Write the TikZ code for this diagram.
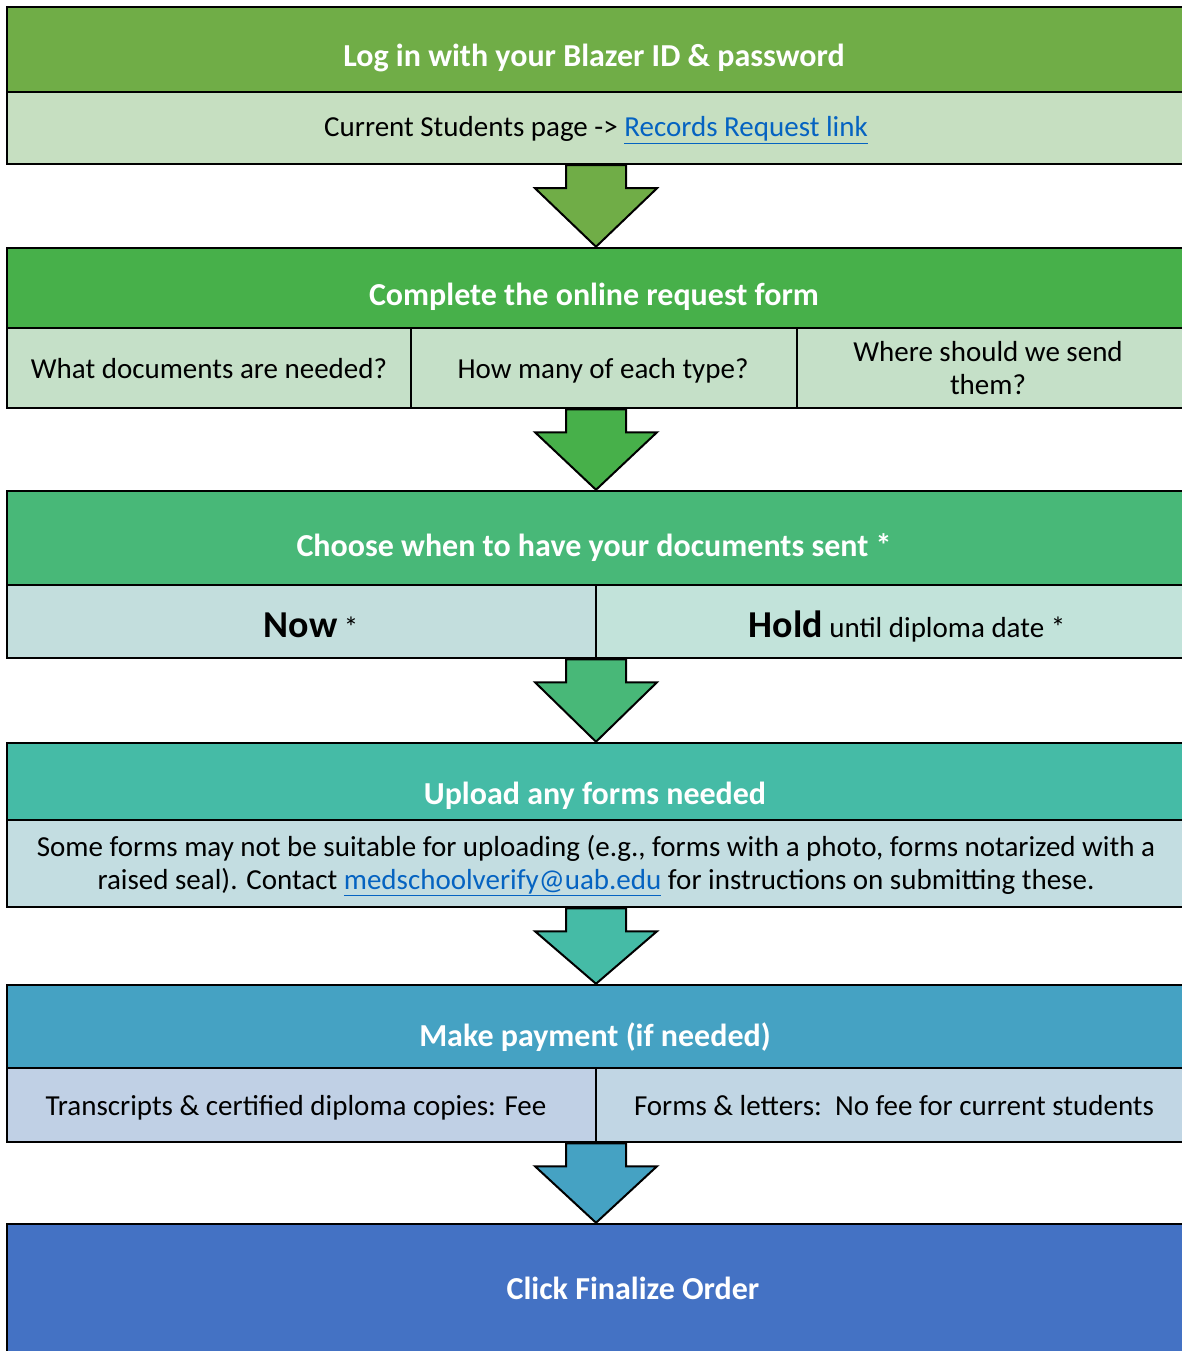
\documentclass[tikz,border=0pt]{standalone}
\usepackage{fontspec}
\setmainfont{Carlito}
\usetikzlibrary{calc}
\definecolor{hA}{HTML}{70AD47}\definecolor{sA}{HTML}{C6DFC1}
\definecolor{hB}{HTML}{47B04A}\definecolor{sB}{HTML}{C5E0C8}
\definecolor{hC}{HTML}{48B878}\definecolor{sCa}{HTML}{C3DEDD}\definecolor{sCb}{HTML}{C2E3DA}
\definecolor{hD}{HTML}{45BBA6}\definecolor{sD}{HTML}{C3DDE1}
\definecolor{hE}{HTML}{45A2C3}\definecolor{sEa}{HTML}{C0D0E5}\definecolor{sEb}{HTML}{C1D6E4}
\definecolor{hF}{HTML}{4472C4}
\definecolor{linkblue}{HTML}{0563C1}
\newcommand\weblink[1]{\textcolor{linkblue}{\underline{#1}}}
\newcommand\flowarrow[3]{%
  \draw[flowarrowstyle, fill=#3] ($(#1)+(-30,0)$) -- ++(0,-23) -- ++(-31,0) -- (#2.north)
    -- ($(#1)+(61,-23)$) -- ++(-31,0) -- ($(#1)+(30,0)$) -- cycle;}
\tikzset{
  panel/.style={draw=black, line width=2.5pt, rectangle, inner sep=0pt},
  hdrtxt/.style={text=white, font=\fontsize{32}{38}\selectfont\bfseries, inner sep=0pt, anchor=base},
  subtxt/.style={font=\fontsize{29}{33}\selectfont, inner sep=0pt, anchor=base, align=center},
  flowarrowstyle/.style={draw=black, line width=2pt, line join=miter},
}
\begin{document}
\begin{tikzpicture}[x=1pt,y=1pt]
\useasboundingbox (0,0) rectangle (1182,-1351);
\clip (0,0) rectangle (1182,-1351);
% block 1
\node[panel, fill=hA, minimum width=1178, minimum height=85] (h1) at (596,-49.5) {};
\node[panel, fill=sA, minimum width=1178, minimum height=72] (s1) at (596,-128) {};
\node[hdrtxt] (t1) at (594,-67) {Log in with your Blazer ID \& password};
\node[subtxt] (u1) at (596,-137) {Current Students page -> \weblink{Records Request link}};
% block 2
\node[panel, fill=hB, minimum width=1178, minimum height=80] (h2) at (596,-288) {};
\node[panel, fill=sB, minimum width=404, minimum height=80] (s2a) at (209,-368) {};
\node[panel, fill=sB, minimum width=386, minimum height=80] (s2b) at (604,-368) {};
\node[panel, fill=sB, minimum width=388, minimum height=80] (s2c) at (991,-368) {};
\node[hdrtxt] (t2) at (594,-305) {Complete the online request form};
\node[subtxt] (u2a) at (209,-378) {What documents are needed?};
\node[subtxt] (u2b) at (603,-378) {How many of each type?};
\node[subtxt] (u2c) at (988,-394) {Where should we send\\them?};
% block 3
\node[panel, fill=hC, minimum width=1178, minimum height=94] (h3) at (596,-538) {};
\node[panel, fill=sCa, minimum width=589, minimum height=73] (s3a) at (301.5,-621.5) {};
\node[panel, fill=sCb, minimum width=589, minimum height=73] (s3b) at (890.5,-621.5) {};
\node[hdrtxt] (t3) at (594,-556) {Choose when to have your documents sent *};
\node[subtxt] (u3a) at (311,-637) {{\fontsize{38}{44}\selectfont\bfseries Now} *};
\node[subtxt] (u3b) at (907,-637) {{\fontsize{38}{44}\selectfont\bfseries Hold} until diploma date *};
% block 4
\node[panel, fill=hD, minimum width=1178, minimum height=77] (h4) at (596,-781.5) {};
\node[panel, fill=sD, minimum width=1178, minimum height=87] (s4) at (596,-863.5) {};
\node[hdrtxt] (t4) at (595,-804) {Upload any forms needed};
\node[subtxt] (u4) at (596,-889) {Some forms may not be suitable for uploading (e.g., forms with a photo, forms notarized with a\\raised seal). Contact \weblink{medschoolverify@uab.edu} for instructions on submitting these.};
% block 5
\node[panel, fill=hE, minimum width=1178, minimum height=83] (h5) at (596,-1026.5) {};
\node[panel, fill=sEa, minimum width=589, minimum height=74] (s5a) at (301.5,-1105) {};
\node[panel, fill=sEb, minimum width=589, minimum height=74] (s5b) at (890.5,-1105) {};
\node[hdrtxt] (t5) at (595,-1046) {Make payment (if needed)};
\node[subtxt] (u5a) at (296,-1115) {Transcripts \& certified diploma copies: Fee};
\node[subtxt] (u5b) at (894,-1115) {Forms \& letters:\ \ No fee for current students};
% block 6
\node[panel, fill=hF, minimum width=1178, minimum height=200] (h6) at (596,-1324) {};
\node[hdrtxt] (t6) at (633,-1299) {Click Finalize Order};
% arrows
\coordinate (a1) at (h1.south |- s1.south);
\coordinate (a2) at (h2.south |- s2b.south);
\coordinate (a3) at (h3.south |- s3a.south);
\coordinate (a4) at (h4.south |- s4.south);
\coordinate (a5) at (h5.south |- s5a.south);
\flowarrow{a1}{h2}{hA}
\flowarrow{a2}{h3}{hB}
\flowarrow{a3}{h4}{hC}
\flowarrow{a4}{h5}{hD}
\flowarrow{a5}{h6}{hE}
\end{tikzpicture}
\end{document}
